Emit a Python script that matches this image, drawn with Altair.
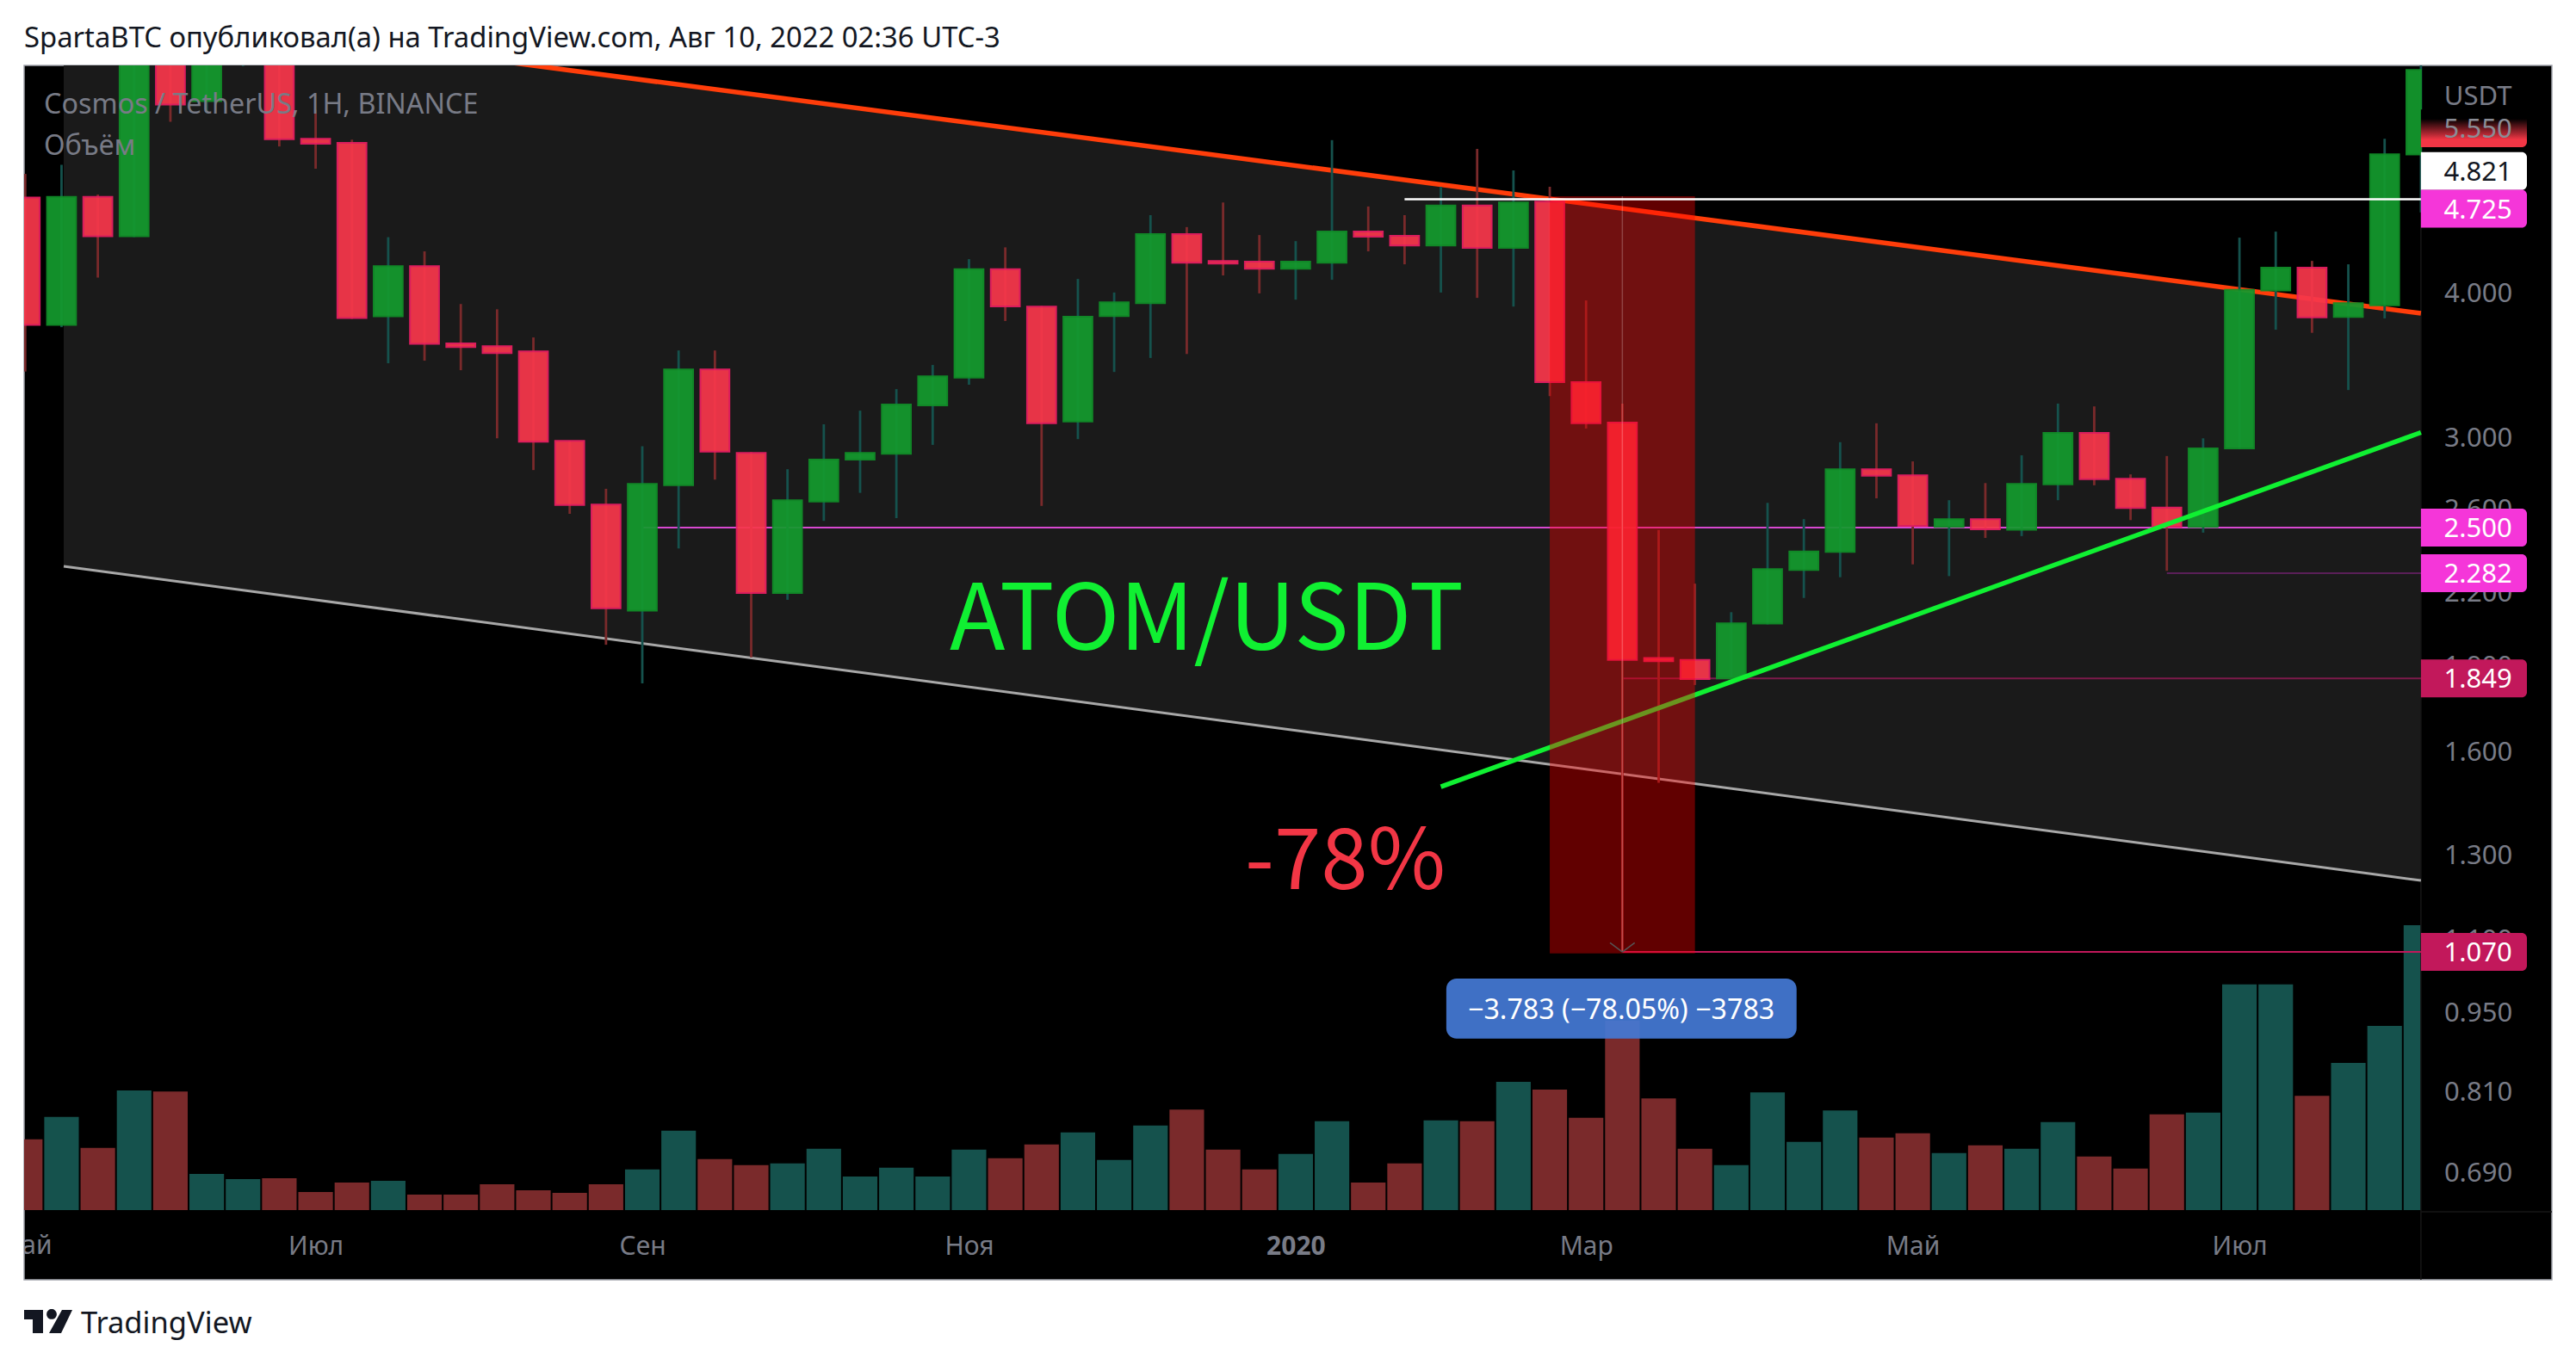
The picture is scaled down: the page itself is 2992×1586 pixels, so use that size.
import altair as alt
import math
import pandas as pd

FONT = "Noto Sans"
BIG_FONT = "Noto Sans CJK JP"

# weekly candles, price in USDT (the first ones run off the top of the picture)
candle_open = [4.837, 3.750, 4.845, 4.477, 6.80, 5.867, 6.50, 7.10, 5.441, 5.397, 3.815, 4.218, 3.613, 3.594, 3.557, 2.974,
               2.618, 2.118, 2.721, 3.431, 2.903, 2.194, 2.634, 2.864, 2.898, 3.192, 3.375, 4.192, 3.889, 3.091, 3.816,
               3.917, 4.496, 4.262, 4.255, 4.195, 4.247, 4.519, 4.481, 4.395, 4.761, 4.375, 4.799, 3.344, 3.085, 1.926,
               1.919, 1.849, 2.064, 2.297, 2.382, 2.810, 2.776, 2.503, 2.543, 2.490, 2.726, 3.021, 2.757, 2.602, 2.503,
               2.929, 4.018, 4.204, 3.810, 3.900, 5.272]
candle_high = [5.072, 5.165, 4.867, 7.20, 7.30, 7.40, 7.30, 7.30, 5.766, 5.431, 4.469, 4.344, 3.910, 3.869, 3.657, 2.974,
               2.702, 2.942, 3.563, 3.563, 2.908, 2.810, 3.074, 3.159, 3.298, 3.461, 4.277, 4.379, 3.895, 4.111, 4.001,
               4.670, 4.560, 4.790, 4.488, 4.434, 5.426, 4.752, 4.670, 4.943, 5.332, 5.107, 4.943, 3.938, 3.204, 2.488,
               2.235, 2.111, 2.627, 2.543, 2.966, 3.080, 2.854, 2.641, 2.733, 2.889, 3.204, 3.186, 2.781, 2.885, 2.989,
               4.465, 4.519, 4.262, 4.233, 5.441, 6.60]
candle_low = [3.416, 3.733, 4.122, 4.47, 5.629, 5.731, 6.29, 5.358, 5.125, 3.795, 3.473, 3.491, 3.425, 2.989, 2.805, 2.570,
              1.978, 1.831, 2.398, 2.752, 1.929, 2.164, 2.534, 2.680, 2.548, 2.950, 3.327, 3.779, 2.611, 2.984, 3.413,
              3.510, 3.538, 4.140, 3.994, 3.944, 4.104, 4.344, 4.233, 4.001, 3.958, 3.890, 3.252, 3.048, 1.070, 1.501,
              1.825, 1.849, 2.060, 2.172, 2.264, 2.651, 2.323, 2.269, 2.449, 2.458, 2.641, 2.721, 2.538, 2.293, 2.475,
              2.924, 3.714, 3.691, 3.292, 3.799, 4.696]
candle_close = [3.750, 4.845, 4.477, 6.90, 5.827, 7.00, 7.00, 5.436, 5.388, 3.802, 4.218, 3.610, 3.588, 3.545, 2.969, 2.616,
                2.128, 2.728, 3.431, 2.911, 2.194, 2.641, 2.864, 2.903, 3.198, 3.383, 4.192, 3.892, 3.080, 3.812, 3.924,
                4.496, 4.247, 4.240, 4.195, 4.255, 4.519, 4.473, 4.395, 4.761, 4.375, 4.790, 3.344, 3.080, 1.919, 1.914,
                1.847, 2.065, 2.301, 2.384, 2.810, 2.774, 2.509, 2.543, 2.492, 2.728, 3.021, 2.755, 2.600, 2.503, 2.929,
                4.022, 4.204, 3.807, 3.917, 5.276, 6.245]
# volume, millions (no scale on the picture, so only the proportions are real)
volume = [16.4, 21.6, 14.4, 27.7, 27.5, 8.4, 7.2, 7.4, 4.2, 6.4, 6.8, 3.6, 3.6, 6.0, 4.6, 4.0, 6.0, 9.4, 18.4, 11.8, 10.4,
          10.8, 14.2, 7.8, 9.8, 7.8, 14.0, 12.0, 15.2, 18.0, 11.6, 19.6, 23.3, 14.0, 9.4, 13.0, 20.6, 6.4, 10.8, 20.8,
          20.6, 29.7, 27.9, 21.4, 43.9, 25.9, 14.2, 10.4, 27.3, 15.8, 23.1, 16.8, 17.8, 13.2, 15.0, 14.2, 20.4, 12.4,
          9.6, 22.2, 22.6, 52.3, 52.3, 26.5, 34.1, 42.7, 66.0]

price_ticks = [4.0, 3.0, 2.6, 2.2, 1.9, 1.6, 1.3, 1.1, 0.95, 0.81, 0.69]
month_ticks = [8, 17, 26, 35, 43, 52, 61]
month_names = ["Июл", "Сен", "Ноя", "2020", "Мар", "Май", "Июл"]

# trend lines: candle index and price at both ends
channel_x = [1.06, 66]
channel_upper = [7.126, 3.838]
channel_lower = [2.314, 1.2345]
support_x = [39, 66]
support_y = [1.489, 3.024]

# horizontal levels
level_price = [2.5, 2.282, 1.849, 1.07]
level_start = [17, 59, 44, 44]
level_color = ["#d848d0", "#5a1f58", "#7c1a4a", "#c2185b"]

# price tags on the axis: level they are drawn at, and what they say
tag_at = [5.10, 4.73, 2.5, 2.282, 1.849, 1.07]
tag_text = ["4.821", "4.725", "2.500", "2.282", "1.849", "1.070"]
tag_fill = ["#ffffff", "#f536d9", "#f536d9", "#f536d9", "#c2185b", "#c2185b"]
tag_ink = ["#131722", "#ffffff", "#ffffff", "#ffffff", "#ffffff", "#ffffff"]


x_scale = alt.Scale(domain=[-0.0308, 69.608], nice=False, zero=False)
y_scale = alt.Scale(type="log", domain=[0.55548, 6.3008], nice=False)
vol_scale = alt.Scale(domain=[-16.16, 265.3], nice=False, zero=False)

x_axis = alt.Axis(
    values=month_ticks,
    labelExpr="%s[indexof(%s, datum.value)]" % (month_names, month_ticks),
    title=None,
    grid=False,
    domain=False,
    ticks=False,
    labelFont=FONT,
    labelFontSize=30,
    labelColor="#787b86",
    labelFontWeight={"condition": {"test": "datum.value == 35", "value": "bold"}, "value": "normal"},
    labelAngle=0,
    labelBaseline="middle",
    labelPadding=-39,
    labelOverlap=False,
    labelFlush=False,
)
y_axis = alt.Axis(
    orient="right",
    offset=-152,
    values=price_ticks,
    format=".3f",
    title=None,
    grid=False,
    domain=False,
    ticks=False,
    labelFont=FONT,
    labelFontSize=31,
    labelColor="#787b86",
    labelAlign="center",
    labelPadding=66,
    labelOffset=2,
    labelOverlap=False,
    labelFlush=False,
)


def X(field):
    return alt.X(field, type="quantitative", scale=x_scale, axis=x_axis)


def Y(field, axis=None):
    return alt.Y(field, type="quantitative", scale=y_scale, axis=axis)


def note(text, x, y, color, size, align="left", baseline="middle", font=FONT, dy=2):
    frame = pd.DataFrame({"x": [x], "y": [y], "t": [text]})
    return (
        alt.Chart(frame)
        .mark_text(font=font, fontSize=size, color=color, align=align, baseline=baseline, dy=dy)
        .encode(x=X("x"), y=Y("y"), text="t:N")
    )


def page_note(text, x, y, color, size):
    frame = pd.DataFrame({"t": [text]})
    return (
        alt.Chart(frame)
        .mark_text(font=FONT, fontSize=size, color=color, align="left", baseline="middle")
        .encode(x=alt.value(x), y=alt.value(y), text="t:N")
    )


def level_line(start, end, price, color, width=2):
    frame = pd.DataFrame({"a": [start], "b": [end], "p": [price]})
    return (
        alt.Chart(frame)
        .mark_rule(color=color, strokeWidth=width, clip=True)
        .encode(x=X("a"), x2="b", y=Y("p"))
    )


def trend_line(xs, ys, color, width):
    frame = pd.DataFrame({"x": xs, "y": ys})
    return alt.Chart(frame).mark_line(color=color, strokeWidth=width, clip=True).encode(x=X("x"), y=Y("y"))


candles = pd.DataFrame(
    {"i": range(len(candle_open)), "o": candle_open, "h": candle_high, "l": candle_low, "c": candle_close, "v": volume}
)
candles["dir"] = ["up" if c >= o else "down" for o, c in zip(candle_open, candle_close)]
candles["left"] = candles["i"] - 0.4
candles["right"] = (candles["i"] + 0.4).clip(upper=66)
candles["vleft"] = candles["i"] - 0.476
candles["vright"] = (candles["i"] + 0.476).clip(upper=66)
candles["zero"] = 0.0


def by_dir(up, down):
    return alt.Scale(domain=["up", "down"], range=[up, down])


channel = (
    alt.Chart(pd.DataFrame({"x": channel_x, "u": channel_upper, "l": channel_lower}))
    .mark_area(color="#1a1a1a", clip=True)
    .encode(x=X("x"), y=Y("u", y_axis), y2="l")
)
vol_bars = (
    alt.Chart(candles)
    .mark_rect(clip=True)
    .encode(
        x=X("vleft"),
        x2="vright",
        y=alt.Y("v", type="quantitative", scale=vol_scale, axis=None),
        y2="zero",
        color=alt.Color("dir:N", scale=by_dir("#15524d", "#7a2a2b"), legend=None),
    )
)
wicks = (
    alt.Chart(candles)
    .mark_rule(strokeWidth=2.8, clip=True)
    .encode(
        x=X("i"),
        y=Y("l"),
        y2="h",
        color=alt.Color("dir:N", scale=by_dir("#1ca82f", "#ff3d14"), legend=None),
    )
)
bodies = (
    alt.Chart(candles)
    .mark_rect(strokeWidth=2, opacity=0.93, clip=True)
    .encode(
        x=X("left"),
        x2="right",
        y=Y("o"),
        y2="c",
        fill=alt.Fill("dir:N", scale=by_dir("#149a2e", "#f7374b"), legend=None),
        stroke=alt.Stroke("dir:N", scale=by_dir("#119028", "#e91e63"), legend=None),
    )
)
drop_zone = (
    alt.Chart(pd.DataFrame({"a": [42.0], "b": [46.0], "t": [4.85], "d": [1.0669]}))
    .mark_rect(color="#ff0000", opacity=0.38, clip=True)
    .encode(x=X("a"), x2="b", y=Y("t"), y2="d")
)
drop_arrow = [
    alt.Chart(pd.DataFrame({"a": [a], "b": [44.0], "t": [1.09], "d": [1.07]}))
    .mark_rule(color="#555555", strokeWidth=1.5)
    .encode(x=X("a"), x2="b", y=Y("t"), y2="d")
    for a in [43.66, 44.34]
]
drop_rule = (
    alt.Chart(pd.DataFrame({"a": [44.0], "t": [4.85], "d": [1.07]}))
    .mark_rule(color="#ffffff", opacity=0.22, strokeWidth=1.5)
    .encode(x=X("a"), y=Y("t"), y2="d")
)
# the faint lines that split off the price and time panes
pane_rule_v = alt.Chart(pd.DataFrame({"a": [66.0]})).mark_rule(color="#161616", strokeWidth=1.5).encode(x=X("a"))
pane_rule_h = (
    alt.Chart(pd.DataFrame({"a": [66.0], "b": [69.608], "v": [-0.4]}))
    .mark_rule(color="#161616", strokeWidth=1.5)
    .encode(x=X("a"), x2="b", y=alt.Y("v", type="quantitative", scale=vol_scale, axis=None))
)

tags = pd.DataFrame({"at": tag_at, "t": tag_text, "fill": tag_fill, "ink": tag_ink})
tags["top"] = [p * math.exp(22 / 581) for p in tag_at]
tags["bottom"] = [p * math.exp(-22 / 581) for p in tag_at]
tags["a"] = 66.0
tags["b"] = 68.92
tags["mid"] = 67.57
tag_rects = (
    alt.Chart(tags)
    .mark_rect(cornerRadiusTopRight=6, cornerRadiusBottomRight=6)
    .encode(x=X("a"), x2="b", y=Y("top"), y2="bottom", color=alt.Color("fill:N", scale=None))
)
tag_labels = (
    alt.Chart(tags)
    .mark_text(font=FONT, fontSize=31, baseline="middle", align="center", dy=2)
    .encode(x=X("mid"), y=Y("at"), text="t:N", color=alt.Color("ink:N", scale=None))
)
fade_tag = (
    alt.Chart(pd.DataFrame({"a": [66.0], "b": [68.92], "t": [5.77], "d": [5.35]}))
    .mark_rect(
        cornerRadiusBottomRight=6,
        color=alt.LinearGradient(
            gradient="linear",
            x1=0,
            x2=0,
            y1=0,
            y2=1,
            stops=[
                alt.GradientStop(color="#000000", offset=0.25),
                alt.GradientStop(color="#f23645", offset=0.8),
                alt.GradientStop(color="#f23645", offset=1.0),
            ],
        ),
    )
    .encode(x=X("a"), x2="b", y=Y("t"), y2="d")
)

blue_tag = (
    alt.Chart(pd.DataFrame({"a": [39.15], "b": [48.8], "t": [1.0144], "d": [0.900]}))
    .mark_rect(color="#4479d4", opacity=0.93, cornerRadius=12)
    .encode(x=X("a"), x2="b", y=Y("t"), y2="d")
)

# first month label, cut by the left edge of the pane
first_month = (
    alt.Chart(pd.DataFrame({"x": [0.0], "v": [-8.4], "t": ["Май"]}))
    .mark_text(font=FONT, fontSize=30, color="#787b86", align="center", baseline="middle", clip=True)
    .encode(x=X("x"), y=alt.Y("v", type="quantitative", scale=vol_scale, axis=None), text="t:N")
)

logo_path = (
    "M-1,-.482 H-.214 V.482 H-.643 V-.089 H-1 Z "
    "M.571,-.482 H1 L.536,.482 H.036 Z "
    "M.353,-.304 A.21,.21 0 1,1 -.067,-.304 A.21,.21 0 1,1 .353,-.304 Z"
)
logo = (
    alt.Chart(pd.DataFrame({"t": ["logo"]}))
    .mark_point(shape=logo_path, filled=True, color="#131722", opacity=1, size=3136)
    .encode(x=alt.value(28), y=alt.value(1459.5))
)

chart = (
    alt.layer(
        channel,
        vol_bars,
        pane_rule_v,
        pane_rule_h,
        first_month,
        trend_line(channel_x, channel_lower, "#a8a8a8", 3),
        *[level_line(s, 66, p, c) for s, p, c in zip(level_start, level_price, level_color)],
        trend_line(channel_x, channel_upper, "#ff3d0a", 5.5),
        wicks,
        bodies,
        trend_line(support_x, support_y, "#10f032", 5.5),
        drop_zone,
        drop_rule,
        *drop_arrow,
        level_line(38, 66, 4.821, "#ffffff", 2.5),
        note("Cosmos / TetherUS, 1H, BINANCE", 0.515, 5.84, "#787b86", 32.3),
        note("Объём", 0.515, 5.378, "#787b86", 32.3),
        note("ATOM/USDT", 25.47, 1.958, "#10f032", 106, baseline="alphabetic", font=BIG_FONT, dy=0),
        note("-78%", 33.6, 1.2137, "#f23645", 98, baseline="alphabetic", font=BIG_FONT, dy=0),
        note("USDT", 67.57, 5.93, "#787b86", 31, align="center"),
        blue_tag,
        note("−3.783 (−78.05%) −3783", 43.97, 0.9555, "#ffffff", 32.2, align="center"),
        fade_tag,
        note("5.550", 67.57, 5.557, "#8a8d96", 31, align="center"),
        tag_rects,
        tag_labels,
        page_note("SpartaBTC опубликовал(а) на TradingView.com, Авг 10, 2022 02:36 UTC-3", 0, -31, "#131722", 32.8),
        page_note("TradingView", 66, 1463, "#131722", 34.5),
        logo,
    )
    .resolve_scale(y="independent")
    .properties(
        width=2936,
        height=1411,
        autosize=alt.AutoSizeParams(type="none"),
        padding={"left": 20, "top": 68, "right": 20, "bottom": 91},
        background="#ffffff",
    )
    .configure_view(fill="#000000", stroke="#a0a3aa", strokeWidth=1.5)
)

chart.save("out.html", embed_options={"renderer": "svg", "actions": False})
